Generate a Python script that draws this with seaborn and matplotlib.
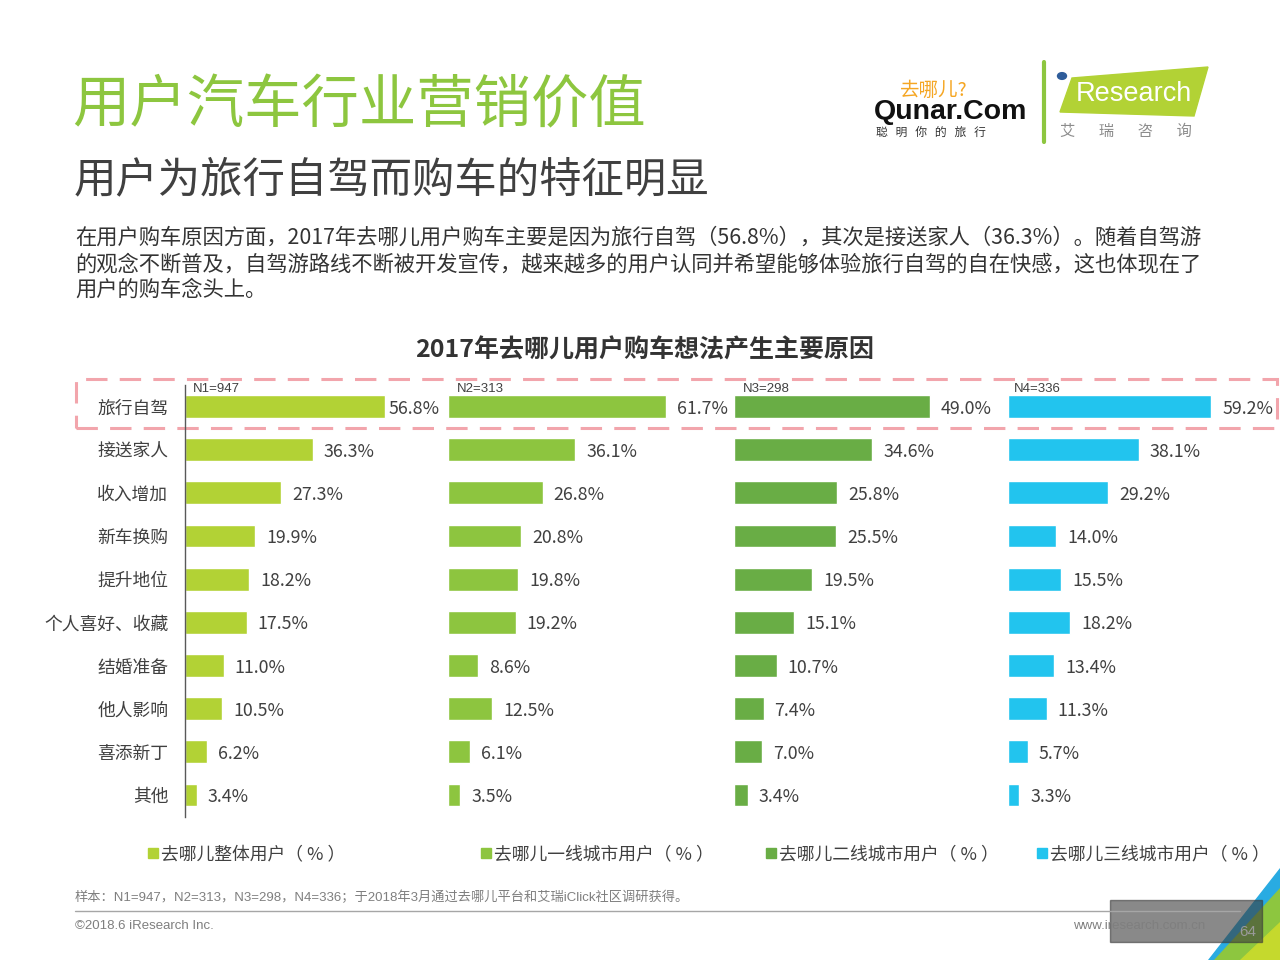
import matplotlib
matplotlib.use("Agg")
import matplotlib.pyplot as plt
import matplotlib.patches as mpatches
import matplotlib.lines as mlines
import seaborn as sns
import pandas as pd

# ---------------- data ----------------
categories = ["旅行自驾", "接送家人", "收入增加", "新车换购", "提升地位",
              "个人喜好、收藏", "结婚准备", "他人影响", "喜添新丁", "其他"]
overall = [56.8, 36.3, 27.3, 19.9, 18.2, 17.5, 11.0, 10.5, 6.2, 3.4]
tier1 = [61.7, 36.1, 26.8, 20.8, 19.8, 19.2, 8.6, 12.5, 6.1, 3.5]
tier2 = [49.0, 34.6, 25.8, 25.5, 19.5, 15.1, 10.7, 7.4, 7.0, 3.4]
tier3 = [59.2, 38.1, 29.2, 14.0, 15.5, 18.2, 13.4, 11.3, 5.7, 3.3]
series_names = ["去哪儿整体用户（ % ）", "去哪儿一线城市用户（ % ）",
                "去哪儿二线城市用户（ % ）", "去哪儿三线城市用户（ % ）"]
sample_labels = ["N1=947", "N2=313", "N3=298", "N4=336"]

title = "用户汽车行业营销价值"
subtitle = "用户为旅行自驾而购车的特征明显"
para_lines = [
    "在用户购车原因方面，2017年去哪儿用户购车主要是因为旅行自驾（56.8%），其次是接送家人（36.3%）。随着自驾游",
    "的观念不断普及，自驾游路线不断被开发宣传，越来越多的用户认同并希望能够体验旅行自驾的自在快感，这也体现在了",
    "用户的购车念头上。",
]
chart_title = "2017年去哪儿用户购车想法产生主要原因"
footnote = "样本：N1=947，N2=313，N3=298，N4=336；于2018年3月通过去哪儿平台和艾瑞iClick社区调研获得。"

# ---------------- style ----------------
sns.set_theme(style="white")
CJK = ["Noto Sans CJK SC", "DejaVu Sans"]
LAT = ["Liberation Sans", "Noto Sans CJK SC", "DejaVu Sans"]
plt.rcParams["font.family"] = CJK

colors = ["#B2D235", "#8DC53F", "#69AD45", "#22C4EE"]
TXT = "#404040"

W, H = 1280, 960
fig = plt.figure(figsize=(12.8, 9.6), dpi=100)
fig.patch.set_facecolor("white")


def fx(x):
    return x / W


def fy(y):
    return 1 - y / H


def ftext(x, y, s, **kw):
    kw.setdefault("transform", fig.transFigure)
    return fig.text(fx(x), fy(y), s, **kw)


# ---------------- headings ----------------
ftext(72, 106, title, fontsize=41.3, color="#8DC63F", va="center", ha="left")
ftext(74, 180, subtitle, fontsize=30.5, color="#404040", va="center", ha="left")
for i, line in enumerate(para_lines):
    ftext(75, 238 + i * 26, line, fontsize=15.35, color="#333333", va="center", ha="left")
ftext(645, 350, chart_title, fontsize=18, fontweight="bold", color="#333333",
      va="center", ha="center")

# ---------------- logos ----------------
ftext(900, 90, "去哪儿?", fontsize=14, color="#F5A623", va="center", ha="left")
ftext(874, 112, "Qunar.Com", fontsize=20.5, fontweight="bold", color="#111111",
      va="center", ha="left", family=LAT)
ftext(876, 132, "聪   明   你   的   旅   行", fontsize=8.5, color="#333333", va="center", ha="left")
fig.add_artist(mlines.Line2D([fx(1044), fx(1044)], [fy(62), fy(142)],
                             color="#8DC63F", lw=3, transform=fig.transFigure))
poly = mpatches.Polygon([(fx(1060), fy(112)), (fx(1072), fy(78)), (fx(1208), fy(67)),
                         (fx(1194), fy(116))], closed=True, color="#B2D235",
                        transform=fig.transFigure)
fig.add_artist(poly)
fig.add_artist(mpatches.Circle((fx(1062), fy(76)), 0.0035, color="#2E5C9A",
                               transform=fig.transFigure))
ftext(1076, 94, "Research", fontsize=19.5, color="white", va="center", ha="left", family=LAT)
ftext(1060, 131, "艾       瑞       咨       询", fontsize=11, color="#8C8C8C", va="center", ha="left")

# ---------------- dashed highlight box ----------------
box = mpatches.Rectangle((fx(76), fy(428)), fx(1277) - fx(76), fy(379) - fy(428),
                         fill=False, edgecolor="#F2A5AC", lw=2.2,
                         linestyle=(0, (7, 4)), transform=fig.transFigure, zorder=0)
fig.add_artist(box)

# ---------------- bar panels ----------------
lefts = [185, 448, 734, 1008]
scales = [3.52, 3.53, 4.0, 3.43]  # px per percent
all_vals = [overall, tier1, tier2, tier3]
top_px, bot_px = 384.9, 816.6
ax_w = 240

for k in range(4):
    ax = fig.add_axes([fx(lefts[k]), fy(bot_px), ax_w / W, (bot_px - top_px) / H])
    df = pd.DataFrame({"cat": categories, "val": all_vals[k]})
    sns.barplot(data=df, x="val", y="cat", orient="h", color=colors[k],
                width=0.53, ax=ax, saturation=1)
    ax.set_xlim(0, ax_w / scales[k])
    ax.set_ylim(len(categories) - 0.5, -0.5)
    ax.set_xlabel("")
    ax.set_ylabel("")
    ax.set_xticks([])
    ax.patch.set_alpha(0)
    for sp in ["top", "right", "bottom"]:
        ax.spines[sp].set_visible(False)
    if k == 0:
        ax.spines["left"].set_visible(True)
        ax.spines["left"].set_color("#595959")
        ax.spines["left"].set_linewidth(1)
        ax.tick_params(axis="y", length=0, pad=12, labelsize=12.8, labelcolor=TXT)
        for lab in ax.get_yticklabels():
            lab.set_y(lab.get_position()[1])
    else:
        ax.spines["left"].set_visible(False)
        ax.set_yticks([])
    for i, v in enumerate(all_vals[k]):
        off = 4 if (k == 0 and i == 0) else 11
        ax.annotate(f"{v:.1f}%", xy=(v, i), xytext=(off * 0.72, -1.5),
                    textcoords="offset points", va="center", ha="left",
                    fontsize=12.8, color=TXT, annotation_clip=False)
    ftext(lefts[k] + (8 if k == 0 else 9) - (3 if k == 3 else 0), 389, sample_labels[k],
          fontsize=9.5, color=TXT, va="center", ha="left", family=LAT)

# ---------------- legend ----------------
leg_sq = [148, 481, 766, 1037]
for k in range(4):
    fig.add_artist(mpatches.Rectangle((fx(leg_sq[k]), fy(858)), 10 / W, 10 / H,
                                      color=colors[k], transform=fig.transFigure))
    ftext(leg_sq[k] + 13, 854, series_names[k], fontsize=12.8, color=TXT,
          va="center", ha="left")

# ---------------- footer ----------------
ftext(75, 897, footnote, fontsize=9.5, color="#7F7F7F", va="center", ha="left", family=LAT)
fig.add_artist(mlines.Line2D([fx(75), fx(1240)], [fy(911), fy(911)],
                             color="#A6A6A6", lw=1, transform=fig.transFigure))
ftext(75, 926, "©2018.6 iResearch Inc.", fontsize=9.5, color="#7F7F7F",
      va="center", ha="left", family=LAT)
ftext(1205, 926, "www.iresearch.com.cn", fontsize=9.5, color="#7F7F7F",
      va="center", ha="right", family=LAT)

# corner decoration
for pts, c in [([(1280, 868), (1280, 960), (1208, 960)], "#29ABE2"),
               ([(1280, 888), (1280, 960), (1214, 960)], "#8DC63F"),
               ([(1280, 922), (1280, 960), (1240, 960)], "#C5D92D")]:
    fig.add_artist(mpatches.Polygon([(fx(a), fy(b)) for a, b in pts], closed=True,
                                    color=c, transform=fig.transFigure))
ftext(1248, 932, "64", fontsize=11, color="#9A9A9A", va="center", ha="center", family=LAT)

# watermark overlay (box only)
fig.add_artist(mpatches.Rectangle((fx(1110), fy(942)), 152 / W, 42 / H,
                                  color="#3A3A3A", alpha=0.6, transform=fig.transFigure))

fig.savefig("out.png", dpi=100, facecolor="white")
